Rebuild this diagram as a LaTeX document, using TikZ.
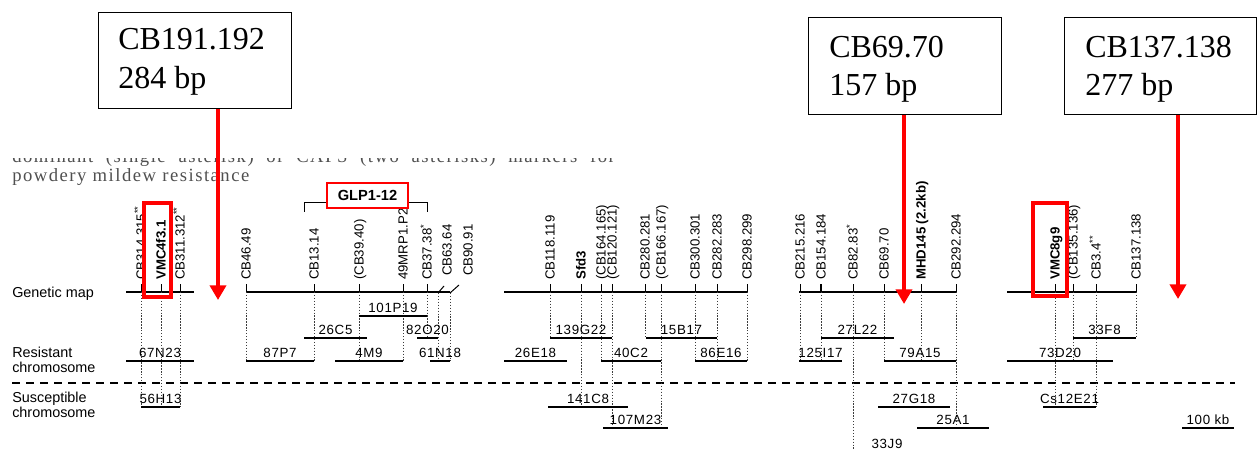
\documentclass[tikz,border=0pt]{standalone}
\usepackage{fontspec}
\setmainfont{Liberation Serif}
\newfontfamily\labfont{Liberation Sans}
\newfontfamily\barfont{Liberation Sans}[LetterSpace=5]
\newfontfamily\headfont{Liberation Serif}[LetterSpace=8]
\usetikzlibrary{arrows.meta}
\definecolor{headgray}{RGB}{80,80,80}
\definecolor{dotgray}{RGB}{60,60,60}
% marker: name, x, label, bottom y of dotted line
\newcommand{\mkr}[4]{%
  \node[mlab] (#1) at (#2,280) {#3};
  \coordinate (#1-t) at (#2,284);
  \coordinate (#1-m) at (#2,292);
  \coordinate (#1-e) at (#2,#4);
  \draw[tickline] (#1-t) -- (#1-m);
  \draw[dotline] (#1-m) -- (#1-e);}
% bar: name, x1, x2, y, label
\newcommand{\cbr}[5]{%
  \coordinate (#1-l) at (#2,#4);
  \coordinate (#1-r) at (#3,#4);
  \draw[barline] (#1-l) -- (#1-r);
  \node[blab] (#1) at ({(#2+#3)/2},{#4-4}) {#5};}
\begin{document}
\begin{tikzpicture}[x=0.75pt,y=-0.75pt,
  mlab/.style={rotate=90, anchor=west, inner sep=0pt, font=\labfont\fontsize{9.9}{10}\selectfont, text height=7.1pt, text depth=0pt},
  blab/.style={anchor=base, inner sep=0pt, font=\barfont\fontsize{10}{12}\selectfont},
  side/.style={anchor=base west, inner sep=0pt, font=\labfont\fontsize{10.8}{12}\selectfont},
  mapline/.style={line width=1pt},
  barline/.style={line width=0.8pt},
  tickline/.style={line width=0.75pt},
  dotline/.style={line width=0.5pt, dash pattern=on 1pt off 1.2pt, dotgray},
  dashline/.style={line width=1pt, dash pattern=on 6pt off 4.5pt},
  redbox/.style={draw=red, line width=2.4pt},
  redarrow/.style={draw=red, line width=3pt, -{Triangle[width=12pt,length=11pt]}},
  cbox/.style={draw, line width=1pt, anchor=north west, inner sep=0pt},
  ctext/.style={anchor=north west, inner sep=0pt, align=left, font=\fontsize{24}{29}\selectfont}
]
\useasboundingbox (0,0) rectangle (1260,449);
\fill[white] (0,0) rectangle (1260,449);

% heading text (partly hidden)
\begin{scope}
  \clip (0,158.5) rectangle (700,170);
  \node[anchor=base west, inner sep=0pt, font=\headfont\fontsize{14}{18}\selectfont, text=headgray] (hd0) at (12,163)
    {\makebox[452pt][s]{dominant (single asterisk) or CAPS (two asterisks) markers for}};
\end{scope}
\node[anchor=base west, inner sep=0pt, font=\headfont\fontsize{14}{18}\selectfont, text=headgray] (hd1) at (12,181) {powdery mildew resistance};

% callout boxes
\node[cbox, minimum width=144.75pt, minimum height=72pt] (b1) at (98,12) {};
\node[ctext] (t1) at (118,28.5) {CB191.192\\284 bp};
\node[cbox, minimum width=144.75pt, minimum height=72.75pt] (b2) at (808,17) {};
\node[ctext] (t2) at (829,35.5) {CB69.70\\157 bp};
\node[cbox, minimum width=144pt, minimum height=72.75pt] (b3) at (1064,17) {};
\node[ctext] (t3) at (1085,35.5) {CB137.138\\277 bp};

% side labels
\node[side] (sgm) at (12,297) {Genetic map};
\node[side] (sr1) at (12,357) {Resistant};
\node[side] (sr2) at (12,372) {chromosome};
\node[side] (ss1) at (12,402) {Susceptible};
\node[side] (ss2) at (12,417) {chromosome};

% dashed separator
\coordinate (dl) at (12,383);
\coordinate (dr) at (1235,383);
\draw[dashline] (dl) -- (dr);

% ---------- group 1
\coordinate (g1l) at (126,292); \coordinate (g1r) at (194,292);
\draw[mapline] (g1l) -- (g1r);
\mkr{m314}{141}{CB314.315\textsuperscript{**}}{407}
\mkr{mvmc4}{161}{\textbf{VMC4f3.1}}{407}
\mkr{m311}{180}{CB311.312\textsuperscript{**}}{407}
\cbr{c67N23}{126}{194}{361}{67N23}
\cbr{c56H13}{141}{180}{407}{56H13}

% ---------- group 2
\coordinate (g2l) at (246,292); \coordinate (g2r) at (450,292);
\draw[mapline] (g2l) -- (g2r);
\mkr{m46}{246}{CB46.49}{361}
\mkr{m13}{314}{CB13.14}{361}
\mkr{m39}{359}{(CB39.40)}{361}
\mkr{m49}{403}{49MRP1.P2}{361}
\mkr{m37}{427}{CB37.38\textsuperscript{*}}{338}
\node[mlab] (m63) at (447,276) {CB63.64};
\coordinate (m63-s) at (444,286); \coordinate (m63-m) at (438,293); \coordinate (m63-e) at (438,361);
\draw[tickline] (m63-s) -- (m63-m); \draw[dotline] (m63-m) -- (m63-e);
\node[mlab] (m90) at (468,276) {CB90.91};
\coordinate (m90-s) at (459,285); \coordinate (m90-m) at (450,293); \coordinate (m90-e) at (450,361);
\draw[tickline] (m90-s) -- (m90-m); \draw[dotline] (m90-m) -- (m90-e);
\cbr{c101P19}{359}{427}{316}{101P19}
\cbr{c26C5}{304}{367}{338}{26C5}
\cbr{c82O20}{417}{438}{338}{82O20}
\cbr{c87P7}{246}{314}{361}{87P7}
\cbr{c4M9}{335}{403}{361}{4M9}
\cbr{c61N18}{430}{450}{361}{61N18}
% GLP1-12 bracket
\coordinate (brl) at (304,212); \coordinate (brtl) at (304,203);
\coordinate (brtr) at (427,203); \coordinate (brr) at (427,212);
\draw[tickline] (brl) -- (brtl) -- (brtr) -- (brr);
\node[draw=red, fill=white, line width=1.1pt, minimum width=60.75pt, minimum height=18.75pt, inner sep=0pt,
      font=\labfont\bfseries\fontsize{11}{12}\selectfont] (glp) at (367.5,195.5) {GLP1-12};

% ---------- group 3
\coordinate (g3l) at (504,292); \coordinate (g3r) at (747,292);
\draw[mapline] (g3l) -- (g3r);
\mkr{m118}{550}{CB118.119}{338}
\mkr{msfd}{581}{\textbf{Sfd3}}{407}
\mkr{m164}{601}{(CB164.165)}{361}
\mkr{m120}{612}{(CB120.121)}{428}
\mkr{m280}{645}{CB280.281}{338}
\mkr{m166}{661}{(CB166.167)}{428}
\mkr{m300}{695}{CB300.301}{361}
\mkr{m282}{717}{CB282.283}{361}
\mkr{m298}{747}{CB298.299}{361}
\cbr{c139G22}{550}{612}{338}{139G22}
\cbr{c15B17}{646}{717}{338}{15B17}
\cbr{c26E18}{504}{567}{361}{26E18}
\cbr{c40C2}{601}{661}{361}{40C2}
\cbr{c86E16}{695}{747}{361}{86E16}
\cbr{c141C8}{548}{628}{407}{141C8}
\cbr{c107M23}{603}{668}{428}{107M23}

% ---------- group 4
\coordinate (g4l) at (799,292); \coordinate (g4r) at (956,292);
\draw[mapline] (g4l) -- (g4r);
\mkr{m215}{800}{CB215.216}{361}
\mkr{m154}{821}{CB154.184}{361}
\draw[line width=1.5pt] (m154-t) -- (m154-m);
\mkr{m82}{853}{CB82.83\textsuperscript{*}}{449}
\mkr{m69}{884}{CB69.70}{361}
\mkr{mmhd}{921}{\textbf{MHD145 (2.2kb)}}{361}
\mkr{m292}{956}{CB292.294}{428}
\cbr{c27L22}{821}{894}{338}{27L22}
\cbr{c125I17}{799}{842}{361}{125I17}
\cbr{c79A15}{884}{956}{361}{79A15}
\cbr{c27G18}{878}{950}{407}{27G18}
\cbr{c25A1}{917}{989}{428}{25A1}
\node[blab] (c33J9) at (887,448) {33J9};

% ---------- group 5
\coordinate (g5l) at (1007,292); \coordinate (g5r) at (1136,292);
\draw[mapline] (g5l) -- (g5r);
\mkr{mvmc8}{1055}{\textbf{VMC8g9}}{407}
\mkr{m135}{1073}{(CB135.136)}{361}
\mkr{m3}{1096}{CB3.4\textsuperscript{**}}{407}
\mkr{m137}{1136}{CB137.138}{338}
\cbr{c33F8}{1073}{1136}{338}{33F8}
\cbr{c73D20}{1007}{1113}{361}{73D20}
\cbr{cCs12E21}{1043}{1096}{407}{Cs12E21}
\cbr{cscale}{1182}{1234}{428}{100 kb}

% red highlight boxes
\draw[redbox] (144,203) rectangle (171,297);
\draw[redbox] (1033,203) rectangle (1067,296);

% red arrows
\coordinate (tip1) at (218,300);
\coordinate (tip2) at (904,304);
\coordinate (tip3) at (1178,299);
\draw[redarrow] (b1.south -| tip1) -- (tip1);
\draw[redarrow] (b2.south -| tip2) -- (tip2);
\draw[redarrow] (b3.south -| tip3) -- (tip3);
\end{tikzpicture}
\end{document}
